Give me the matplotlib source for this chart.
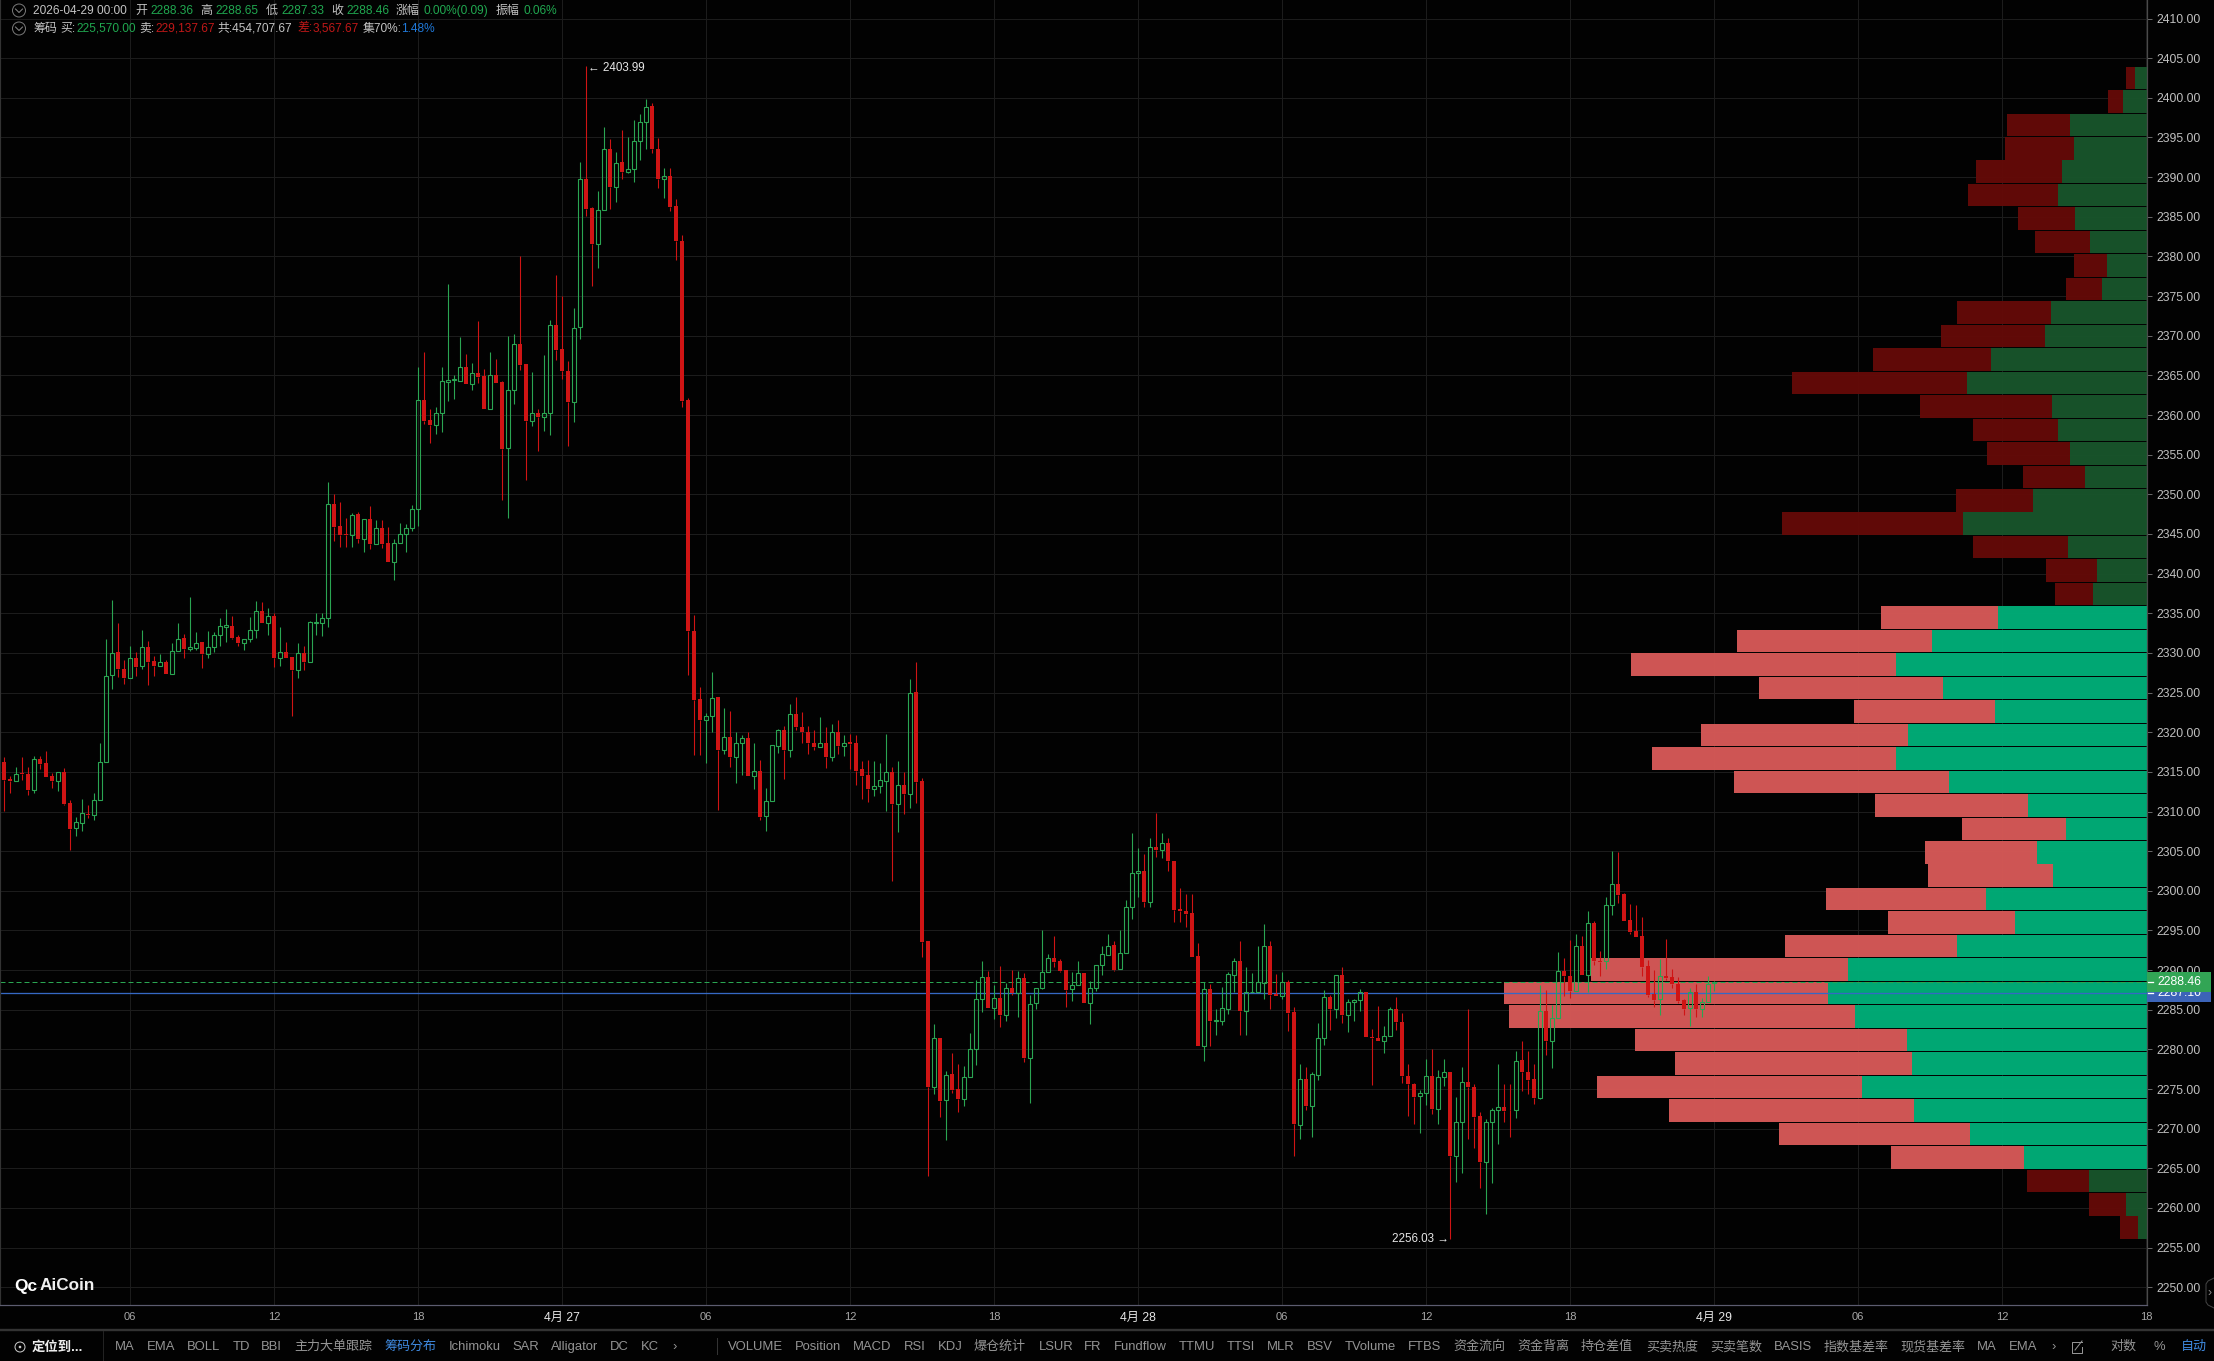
import numpy as np
import matplotlib
matplotlib.use('Agg')
import matplotlib.pyplot as plt
from matplotlib.patches import Circle, Rectangle

# -- 15 min candles --
opens = [
    2316.3,2314.1,2313.9,2314.9,2314.7,2312.7,2316.6,2316.1,2314.5,2313.9,
    2315.0,2311.1,2307.9,2308.6,2309.7,2309.5,2311.4,2316.2,2327.2,2330.1,
    2328.0,2326.8,2329.4,2328.3,2330.8,2329.0,2328.3,2328.8,2327.4,2330.2,
    2331.9,2330.5,2330.6,2331.4,2329.8,2330.8,2332.2,2333.3,2333.4,2332.0,
    2331.2,2331.7,2332.9,2335.3,2333.8,2334.7,2329.3,2330.1,2329.5,2327.9,
    2330.0,2328.9,2333.8,2333.8,2334.4,2348.8,2346.0,2345.0,2344.9,2347.5,
    2344.4,2346.9,2343.7,2345.7,2343.8,2341.5,2343.9,2345.0,2345.8,2348.1,
    2361.9,2359.4,2358.8,2360.3,2364.2,2364.4,2364.3,2366.1,2363.9,2365.3,
    2364.9,2360.8,2365.0,2364.2,2355.8,2363.1,2369.0,2366.4,2359.2,2360.3,
    2359.8,2360.3,2371.3,2368.3,2365.5,2361.7,2371.1,2389.8,2386.1,2381.6,
    2385.8,2393.5,2388.8,2391.9,2390.7,2391.0,2394.6,2396.9,2399.0,2393.6,
    2389.7,2390.2,2386.3,2381.9,2361.9,2332.7,2324.2,2321.5,2322.0,2324.4,
    2317.7,2319.4,2316.9,2318.7,2319.3,2314.5,2315.1,2309.4,2311.3,2318.3,
    2320.3,2317.7,2322.3,2320.7,2320.0,2318.6,2318.1,2318.6,2316.9,2320.0,
    2318.2,2318.8,2318.6,2315.3,2314.6,2312.9,2313.2,2313.9,2315.0,2311.0,
    2313.4,2312.2,2325.1,2313.9,2293.7,2275.2,2281.5,2273.6,2276.9,2275.0,
    2273.8,2276.5,2280.0,2286.4,2289.1,2285.2,2286.5,2284.3,2287.8,2287.1,
    2289.0,2278.9,2285.8,2287.8,2289.7,2291.5,2291.2,2290.0,2287.6,2288.1,
    2289.6,2285.9,2287.8,2290.6,2291.9,2293.2,2290.1,2292.1,2298.0,2302.3,
    2302.5,2298.6,2305.5,2305.1,2306.0,2303.8,2297.7,2297.4,2297.2,2291.8,
    2280.4,2287.6,2283.6,2283.6,2285.1,2289.4,2291.2,2284.9,2287.2,2287.3,
    2288.4,2293.1,2287.0,2286.7,2288.5,2284.7,2270.5,2276.3,2272.9,2276.8,
    2281.4,2286.6,2285.1,2289.4,2284.3,2286.0,2286.2,2287.2,2281.6,2281.4,
    2281.0,2281.7,2285.1,2283.5,2276.7,2275.6,2274.1,2274.5,2276.7,2272.5,
    2276.5,2277.2,2266.5,2270.8,2275.9,2275.3,2271.6,2265.8,2270.8,2272.4,
    2272.7,2272.4,2272.3,2278.7,2277.2,2276.3,2273.9,2284.8,2281.0,2283.9,
    2289.9,2289.3,2287.4,2293.0,2289.4,2295.9,2291.2,2291.1,2298.2,2300.9,
    2299.6,2296.3,2294.9,2294.3,2290.5,2287.0,2286.3,2289.3,2289.1,2288.3,
    2286.2,2285.2,2287.2,2285.1,2286.0,2288.36,
]
closes = [
    2314.0,2313.9,2314.7,2314.7,2312.7,2316.6,2316.0,2314.4,2313.9,2315.0,
    2311.0,2307.8,2308.7,2309.8,2309.5,2311.4,2316.2,2327.1,2330.0,2328.0,
    2326.8,2329.3,2328.2,2330.7,2328.9,2328.3,2328.8,2327.4,2330.2,2331.8,
    2330.5,2330.7,2331.3,2329.8,2330.8,2332.3,2333.4,2333.5,2331.9,2331.2,
    2331.7,2332.9,2335.3,2333.8,2334.7,2329.3,2330.1,2329.4,2327.9,2330.0,
    2328.9,2333.9,2333.9,2334.4,2348.8,2345.9,2344.9,2344.9,2347.4,2344.4,
    2346.9,2343.7,2345.7,2343.7,2341.5,2343.9,2345.0,2345.8,2348.1,2361.9,
    2359.2,2358.7,2360.3,2364.3,2364.4,2364.5,2366.1,2363.9,2365.3,2364.8,
    2360.8,2365.0,2364.0,2355.7,2363.1,2369.0,2366.3,2359.2,2360.3,2359.8,
    2360.3,2371.3,2368.2,2365.5,2361.7,2371.0,2389.8,2386.0,2381.6,2385.8,
    2393.5,2388.8,2391.8,2390.7,2391.0,2394.6,2396.9,2398.9,2393.5,2389.7,
    2390.2,2386.2,2381.9,2361.8,2332.7,2324.1,2321.5,2322.0,2324.3,2317.7,
    2319.4,2316.9,2318.7,2319.3,2314.5,2315.1,2309.3,2311.3,2318.4,2320.3,
    2317.7,2322.3,2320.6,2320.0,2318.6,2318.1,2318.6,2316.9,2320.0,2318.2,
    2318.7,2318.5,2315.1,2314.5,2312.9,2313.2,2314.0,2315.0,2311.0,2313.3,
    2312.2,2325.0,2313.7,2293.6,2275.2,2281.4,2273.5,2276.8,2274.9,2273.8,
    2276.5,2280.0,2286.4,2289.1,2285.2,2286.5,2284.3,2287.8,2287.1,2289.0,
    2278.9,2285.7,2287.8,2289.7,2291.5,2291.0,2289.9,2287.5,2288.1,2289.6,
    2285.9,2287.8,2290.6,2292.0,2293.1,2290.0,2292.1,2298.0,2302.3,2302.5,
    2298.6,2305.5,2305.1,2306.0,2303.8,2297.6,2297.4,2297.1,2291.7,2280.4,
    2287.6,2283.6,2283.7,2285.2,2289.5,2291.2,2284.9,2287.2,2287.3,2288.5,
    2293.1,2286.9,2286.7,2288.5,2284.6,2270.6,2276.3,2272.9,2276.9,2281.4,
    2286.6,2285.1,2289.4,2284.3,2286.0,2286.2,2287.2,2281.6,2281.4,2281.0,
    2281.7,2285.1,2283.4,2276.7,2275.6,2274.0,2274.5,2276.7,2272.5,2276.5,
    2277.2,2266.5,2270.8,2275.9,2275.3,2271.5,2265.8,2270.8,2272.4,2272.7,
    2272.2,2272.3,2278.5,2277.2,2276.2,2273.9,2284.8,2281.0,2283.9,2289.9,
    2289.3,2287.4,2293.0,2289.4,2295.9,2291.1,2291.0,2298.2,2300.9,2299.5,
    2296.2,2294.8,2294.2,2290.4,2286.9,2286.2,2289.2,2289.0,2288.3,2286.1,
    2285.1,2287.2,2285.1,2286.0,2288.3,2288.46,
]
highs = [
    2316.9,2314.5,2315.6,2316.9,2315.6,2317.0,2317.0,2317.6,2314.8,2315.0,
    2315.5,2311.5,2309.3,2311.6,2310.8,2312.3,2318.7,2331.8,2336.7,2333.8,
    2329.1,2330.9,2330.1,2332.9,2331.5,2329.6,2329.9,2329.1,2331.3,2333.8,
    2332.4,2337.0,2332.6,2331.4,2332.7,2332.6,2334.4,2335.5,2334.6,2332.2,
    2331.7,2334.5,2336.6,2336.4,2335.7,2335.0,2333.3,2331.4,2329.5,2331.3,
    2330.9,2334.0,2335.0,2335.0,2351.6,2350.0,2349.0,2347.0,2347.6,2347.8,
    2346.9,2348.5,2346.7,2346.8,2345.9,2344.4,2346.4,2346.3,2348.7,2366.0,
    2367.9,2360.7,2361.0,2366.1,2376.5,2365.0,2369.8,2367.7,2366.6,2371.9,
    2365.8,2368.0,2367.1,2364.3,2370.0,2370.2,2380.0,2366.4,2365.4,2360.8,
    2367.6,2372.0,2377.7,2375.0,2366.8,2373.5,2391.9,2403.99,2386.2,2388.3,
    2396.3,2394.8,2393.2,2396.0,2395.0,2397.2,2397.9,2399.9,2399.3,2394.9,
    2391.2,2391.2,2387.3,2382.7,2362.2,2334.8,2325.7,2322.4,2327.6,2324.4,
    2323.1,2322.7,2320.0,2319.7,2320.0,2318.6,2316.5,2313.0,2318.4,2320.4,
    2320.8,2323.6,2324.4,2322.5,2320.8,2320.3,2321.9,2320.7,2321.0,2321.6,
    2319.6,2319.8,2319.6,2316.4,2316.5,2316.4,2316.1,2319.8,2315.6,2316.4,
    2315.0,2326.7,2328.8,2314.2,2293.7,2283.2,2281.5,2277.3,2279.6,2278.2,
    2277.9,2282.1,2288.7,2291.1,2289.9,2288.1,2290.5,2288.4,2290.0,2289.9,
    2289.6,2286.8,2287.8,2295.1,2292.0,2294.3,2291.4,2290.0,2289.7,2291.1,
    2289.6,2288.6,2290.6,2293.1,2294.5,2293.7,2295.0,2298.8,2307.3,2305.4,
    2304.7,2306.7,2309.8,2307.3,2306.7,2303.8,2300.3,2299.6,2299.6,2293.4,
    2288.5,2288.3,2285.1,2287.9,2289.8,2291.5,2293.7,2290.4,2289.6,2293.0,
    2295.8,2293.7,2289.5,2289.7,2288.8,2285.3,2278.2,2277.8,2277.2,2283.3,
    2287.5,2286.8,2289.4,2290.4,2286.4,2286.4,2287.6,2287.2,2282.6,2285.5,
    2282.9,2285.4,2286.6,2284.6,2278.2,2275.8,2274.9,2278.8,2280.0,2277.4,
    2278.8,2277.2,2274.0,2277.8,2285.1,2275.6,2272.1,2271.2,2272.6,2278.1,
    2275.6,2275.6,2279.8,2281.1,2279.8,2278.1,2288.1,2287.5,2285.6,2292.3,
    2291.5,2293.8,2294.6,2294.3,2297.5,2296.2,2292.4,2299.2,2305.0,2304.9,
    2299.7,2298.3,2298.2,2296.7,2291.3,2290.0,2291.4,2293.9,2290.1,2289.1,
    2286.4,2287.7,2288.3,2286.5,2289.3,2288.65,
]
lows = [
    2310.1,2312.3,2313.9,2314.0,2312.1,2312.3,2315.4,2314.4,2313.0,2312.6,
    2310.8,2305.2,2306.9,2307.5,2309.2,2308.9,2311.4,2316.2,2325.5,2327.0,
    2326.1,2326.8,2327.1,2328.0,2325.9,2327.1,2328.3,2327.4,2327.4,2330.2,
    2329.3,2330.3,2330.4,2328.1,2329.4,2330.1,2330.9,2331.4,2331.7,2330.9,
    2330.4,2331.4,2331.9,2333.8,2332.3,2328.2,2328.4,2329.4,2322.1,2326.8,
    2327.8,2328.8,2332.2,2332.1,2333.3,2344.1,2343.4,2343.4,2343.4,2343.8,
    2342.7,2343.1,2343.7,2343.2,2341.5,2339.2,2343.9,2342.7,2345.4,2346.0,
    2358.9,2356.5,2357.6,2357.9,2361.8,2362.0,2364.3,2363.9,2363.1,2364.0,
    2360.8,2360.8,2364.0,2349.3,2347.0,2361.4,2365.7,2351.8,2358.6,2355.5,
    2358.0,2357.5,2366.9,2364.6,2356.1,2359.1,2369.6,2385.1,2376.3,2378.6,
    2385.8,2386.0,2386.8,2389.7,2390.5,2389.4,2392.2,2393.6,2393.0,2388.6,
    2387.4,2385.7,2379.5,2361.0,2327.2,2317.1,2317.1,2316.1,2320.0,2310.2,
    2317.3,2315.6,2313.6,2314.6,2314.5,2312.9,2308.9,2307.5,2311.3,2317.4,
    2314.1,2316.9,2320.3,2318.6,2317.3,2317.8,2318.1,2315.5,2316.4,2317.2,
    2317.0,2315.3,2313.4,2311.6,2311.2,2312.0,2312.3,2310.1,2301.2,2307.4,
    2309.7,2310.4,2311.1,2291.6,2264.0,2274.4,2271.5,2268.6,2274.5,2272.1,
    2272.9,2276.5,2278.0,2284.7,2285.2,2283.8,2282.8,2283.6,2286.9,2284.1,
    2278.4,2273.3,2285.1,2287.6,2289.7,2290.4,2289.7,2285.4,2286.1,2288.1,
    2285.9,2283.2,2287.4,2289.4,2291.9,2289.9,2290.1,2292.1,2296.5,2299.2,
    2298.0,2298.0,2304.3,2304.1,2302.5,2296.1,2296.1,2295.4,2291.7,2280.4,
    2278.6,2280.4,2281.8,2283.1,2284.5,2287.2,2281.8,2281.8,2287.2,2287.3,
    2286.4,2285.1,2286.7,2286.3,2282.3,2266.6,2268.7,2272.3,2269.0,2276.1,
    2280.6,2282.5,2283.9,2283.3,2282.2,2283.6,2284.8,2281.6,2275.5,2281.0,
    2279.6,2281.7,2282.4,2275.8,2271.6,2270.6,2269.4,2273.0,2271.9,2270.6,
    2275.4,2256.03,2263.3,2264.4,2268.7,2267.6,2262.5,2259.3,2263.1,2268.1,
    2270.8,2269.0,2271.4,2274.8,2274.4,2273.1,2273.8,2279.3,2277.7,2283.9,
    2286.7,2286.5,2287.4,2289.4,2287.2,2290.6,2289.3,2290.1,2296.9,2298.4,
    2296.2,2294.6,2294.2,2289.3,2286.6,2285.4,2284.3,2288.8,2287.7,2285.8,
    2284.3,2282.9,2284.1,2284.1,2286.0,2287.33,
]

# -- chip distribution, top row first (bar lengths as read, in chart pixels) --
buy_chips = [
    12,24,77,73,85,89,72,57,40,45,96,102,156,180,95,89,77,62,114,184,79,50,54,149,
    215,251,204,152,239,251,198,119,81,110,94,161,132,190,299,319,292,240,235,285,
    233,177,123,58,21,9,
]
sell_chips = [
    9,15,63,69,86,90,57,55,33,36,94,104,118,175,132,85,83,62,77,181,95,51,38,117,
    195,265,184,141,207,244,215,153,104,112,125,160,127,172,257,324,346,272,237,265,
    245,191,133,62,37,18,
]
value_area_rows = (23, 46)  # bright rows, the 70% chip zone

price_ticks = list(range(2250, 2411, 5))
time_ticks = [21 + 24 * k for k in range(15)]
time_labels = ['06','12','18','4月 27','06','12','18','4月 28','06','12','18','4月 29','06','12','18']
last_close = 2288.46
cost_price = 2287.10
high_price = 2403.99
low_price = 2256.03

header_row1 = [
    ('2026-04-29 00:00', 33, '#c4c4c4'), ('开', 135, '#c4c4c4'), ('2288.36', 150, '#20a850'),
    ('高', 200, '#c4c4c4'), ('2288.65', 215.6, '#20a850'), ('低', 265.6, '#c4c4c4'),
    ('2287.33', 281, '#20a850'), ('收', 331, '#c4c4c4'), ('2288.46', 346, '#20a850'),
    ('涨幅', 396, '#c4c4c4'), ('0.00%(0.09)', 423.7, '#20a850'), ('振幅', 495.5, '#c4c4c4'),
    ('0.06%', 523, '#20a850'),
]
header_row2 = [
    ('筹码', 33, '#c4c4c4'), ('买:', 60, '#c4c4c4'), ('225,570.00', 76, '#20a850'),
    ('卖:', 139, '#c4c4c4'), ('229,137.67', 155, '#c01818'), ('共:454,707.67', 217.4, '#c4c4c4'),
    ('差:', 297, '#c01818'), ('3,567.67', 312.5, '#c01818'), ('集70%:', 362.5, '#c4c4c4'),
    ('1.48%', 401, '#1f78d8'),
]
toolbar = [
    ('MA',114.4),('EMA',146.7),('BOLL',186.7),('TD',232.3),('BBI',261),('主力大单跟踪',294),
    ('筹码分布',384.6),('Ichimoku',448.4),('SAR',512.3),('Alligator',551),('DC',610),('KC',640.7),
    ('›',672),('VOLUME',728.4),('Position',795),('MACD',853),('RSI',904),('KDJ',937.5),
    ('爆仓统计',973),('LSUR',1038.6),('FR',1084),('Fundflow',1113.5),('TTMU',1179),('TTSI',1227),
    ('MLR',1267),('BSV',1307),('TVolume',1345),('FTBS',1408),('资金流向',1453),('资金背离',1517),
    ('持仓差值',1581),('买卖热度',1646),('买卖笔数',1710),('BASIS',1774),('指数基差率',1823.5),
    ('现货基差率',1900),('MA',1977),('EMA',2009),('›',2051),('对数',2110.7),('%',2153),('自动',2181),
]
toolbar_blue = ['筹码分布', '自动']

# -- pixel layout of the price pane --
W, H = 2214, 1361
RIGHT, BOTTOM = 2147, 1305
PX_PER_BAR = 6.0
PX_PER_USD = 7.93
Y_2250 = 1287.3

plt.rcParams['font.family'] = ['Liberation Sans', 'Noto Sans CJK SC', 'DejaVu Sans']
BG = '#020202'
GRID = '#1c1c1c'
UP = '#2aa552'
DOWN = '#cf1414'
PX = 0.72  # one pixel in points at dpi 100

fig = plt.figure(figsize=(W / 100, H / 100), dpi=100, facecolor=BG)
ax = fig.add_axes([0, 1 - BOTTOM / H, RIGHT / W, BOTTOM / H], facecolor=BG)
xmin = -4 / PX_PER_BAR
xmax = (RIGHT - 4) / PX_PER_BAR
ax.set_xlim(xmin, xmax)
ax.set_ylim(2250 - (BOTTOM - Y_2250) / PX_PER_USD, 2250 + Y_2250 / PX_PER_USD)

ax.set_yticks(price_ticks)
ax.set_yticklabels(['%.2f' % p for p in price_ticks])
ax.yaxis.tick_right()
ax.tick_params(axis='y', length=3.6, width=PX, color='#666666', labelcolor='#c0c0c0',
               labelsize=8.8, pad=3.5)
ax.set_xticks(time_ticks)
ax.set_xticklabels(time_labels)
ax.tick_params(axis='x', length=0, labelcolor='#a8a8a8', labelsize=8, pad=5)
for lab in ax.get_xticklabels():
    if '月' in lab.get_text():
        lab.set_color('#e6e6e6')
        lab.set_fontsize(8.8)
ax.grid(True, color=GRID, linewidth=PX, zorder=0)
ax.set_axisbelow(True)
ax.spines['top'].set_visible(False)
ax.spines['left'].set_color('#333333')
ax.spines['right'].set_color('#4a4a4a')
ax.spines['bottom'].set_color('#5c5c70')
for s in ax.spines.values():
    s.set_linewidth(PX * 1.2)

# chip distribution bars, hanging off the right edge of the pane
edges = np.linspace(high_price, low_price, len(buy_chips) + 1)
bin_h = edges[0] - edges[1]
centers = edges[:-1] - bin_h / 2
buy_len = np.array(buy_chips) / PX_PER_BAR
sell_len = np.array(sell_chips) / PX_PER_BAR
bright = np.zeros(len(buy_chips), dtype=bool)
bright[value_area_rows[0]:value_area_rows[1] + 1] = True
ax.barh(centers, buy_len, left=xmax - buy_len, height=bin_h * 0.96,
        color=np.where(bright, '#00ae78', '#18542b'), alpha=0.97, linewidth=0, zorder=1)
ax.barh(centers, sell_len, left=xmax - buy_len - sell_len, height=bin_h * 0.96,
        color=np.where(bright, '#d65957', '#640a08'), alpha=0.97, linewidth=0, zorder=1)

# price lines
ax.axhline(last_close, color='#2aa552', linewidth=PX, dashes=(5, 3), zorder=1.5)
ax.axhline(cost_price, color='#3568c4', linewidth=PX * 1.3, zorder=1.5)

# candles: wicks stop at the body, hollow up bodies show what is behind them
o = np.array(opens)
c = np.array(closes)
hi = np.array(highs)
lo = np.array(lows)
x = np.arange(len(o))
up = c >= o
top = np.maximum(o, c)
bot = np.minimum(o, c)
for mask, col in ((up, UP), (~up, DOWN)):
    ax.vlines(x[mask], top[mask], hi[mask], color=col, linewidth=PX * 1.1, zorder=2)
    ax.vlines(x[mask], lo[mask], bot[mask], color=col, linewidth=PX * 1.1, zorder=2)
ax.bar(x[up], top[up] - bot[up], bottom=bot[up], width=0.55, facecolor='none',
       edgecolor=UP, linewidth=PX * 1.1, zorder=2.1)
ax.bar(x[~up], top[~up] - bot[~up], bottom=bot[~up], width=0.66, color=DOWN, linewidth=0, zorder=2.1)

# high / low marks
i_hi = int(np.argmax(hi))
i_lo = int(np.argmin(lo))
ax.annotate('← %.2f' % high_price, (i_hi, high_price), xytext=(2, -1.5), textcoords='offset pixels',
            color='#e6e6e6', fontsize=8.4, va='center', zorder=3)
ax.annotate('%.2f →' % low_price, (i_lo, low_price), xytext=(-1, 0), textcoords='offset pixels',
            color='#e6e6e6', fontsize=8.4, va='center', ha='right', zorder=3)

# -- everything outside the pane, in pixels of the picture --
ui = fig.add_axes([0, 0, 1, 1], facecolor='none', zorder=5)
ui.set_xlim(0, W)
ui.set_ylim(H, 0)
ui.axis('off')


def y_of(price):
    return Y_2250 - (price - 2250) * PX_PER_USD


# price tags on the axis
y_cost = y_of(cost_price)
y_last = y_of(last_close)
ui.add_patch(Rectangle((RIGHT, y_cost - 10), 64, 19, facecolor='#3c64b8', linewidth=0, zorder=2))
ui.text(2157, y_cost, '%.2f' % cost_price, color='white', fontsize=8.8, va='center', zorder=3)
ui.plot([RIGHT + 1, RIGHT + 6], [y_cost, y_cost], color='white', linewidth=PX * 1.3, zorder=3)
ui.add_patch(Rectangle((RIGHT, y_last - 10), 64, 20, facecolor='#32a555', linewidth=0, zorder=4))
ui.text(2157, y_last, '%.2f' % last_close, color='white', fontsize=8.8, va='center', zorder=5)
ui.plot([RIGHT + 1, RIGHT + 6], [y_last, y_last], color='white', linewidth=PX * 1.3, zorder=5)

# header rows
for row, ypos in ((header_row1, 10.5), (header_row2, 28.5)):
    for txt, xpos, col in row:
        ui.text(xpos, ypos, txt, color=col, fontsize=8.6, va='center')
    ui.add_patch(Circle((19, ypos), 6.5, facecolor='none', edgecolor='#777777', linewidth=PX))
    ui.plot([15.5, 19, 22.5], [ypos - 1.5, ypos + 2, ypos - 1.5], color='#888888', linewidth=PX)

# logo
ui.text(14, 1286, 'Qc', color='white', fontsize=12.5, fontweight='bold', va='center')
ui.text(40, 1286, 'AiCoin', color='#f0f0f0', fontsize=12.3, fontweight='bold', va='center')

# bottom toolbar
ui.plot([0, W], [1330, 1330], color='#333333', linewidth=PX * 2.4)
ui.plot([102.5, 102.5], [1331, H], color='#222222', linewidth=PX)
ui.plot([716.5, 716.5], [1338, 1354], color='#333333', linewidth=PX)
ui.add_patch(Circle((20, 1347), 5, facecolor='none', edgecolor='#cccccc', linewidth=PX))
ui.add_patch(Circle((20, 1347), 1.3, facecolor='#cccccc', linewidth=0))
ui.text(31.6, 1347, '定位到...', color='#ececec', fontsize=9.6, fontweight='bold', va='center')
for txt, xpos in toolbar:
    col = '#3f8ae0' if txt in toolbar_blue else '#949494'
    ui.text(xpos, 1347, txt, color=col, fontsize=9.4, va='center')
ui.plot([2082, 2072, 2072, 2082, 2082], [1342, 1342, 1353, 1353, 1347], color='#949494', linewidth=PX)
ui.plot([2075, 2082], [1350, 1341], color='#949494', linewidth=PX)

# pull tab on the price axis
ui.plot([2214, 2208, 2206, 2206, 2208, 2214], [1278, 1281, 1284, 1302, 1305, 1308], color='#444444', linewidth=PX)
ui.text(2210, 1293, '›', color='#888888', fontsize=9, va='center', ha='center')

fig.savefig('out.png', dpi=100, facecolor=BG)
